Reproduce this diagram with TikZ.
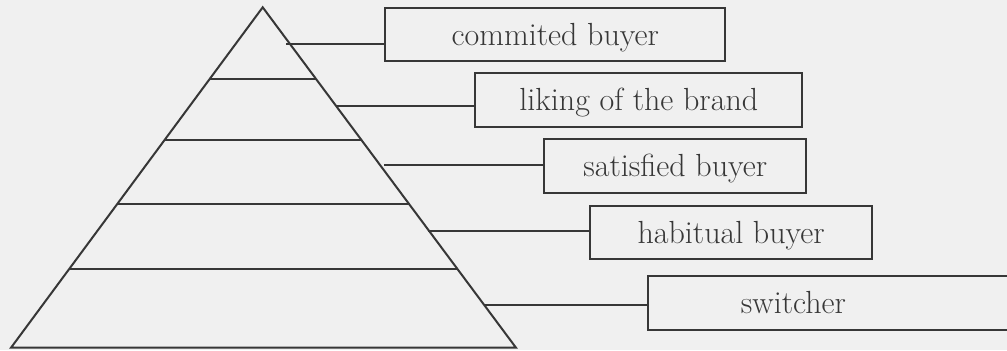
\documentclass[tikz,border=0pt]{standalone}
\usepackage{xcolor}
\usepackage{tikz}
\usetikzlibrary{calc}
\definecolor{pagegray}{RGB}{240,240,240}
\definecolor{linegray}{RGB}{55,55,55}
\tikzset{
  tier/.style={draw=linegray, line width=1pt},
  levelbox/.style={draw=linegray, line width=1pt, fill=pagegray, anchor=west,
    minimum height=26.8pt, inner sep=0pt, text height=11.2pt, text depth=0.5pt,
    font=\fontsize{16}{19}\selectfont, text=linegray}
}

\begin{document}
\begin{tikzpicture}[x=0.5pt, y=-0.5pt]
% page
\fill[pagegray] (0,0) rectangle (1007,350);
\useasboundingbox (0,0) rectangle (1007,350);
% pyramid
\coordinate (top) at (262.7,7.3);
\coordinate (bl) at (11,347.7);
\coordinate (br) at (516,347.7);
\draw[tier, line join=miter] (top) -- (bl) -- (br) -- cycle;
% layers
\foreach \t in {0.2115,0.39,0.577,0.77}
  \draw[tier] ($(top)!\t!(bl)$) -- ($(top)!\t!(br)$);
% boxes
\node[levelbox, minimum width=170pt] (b1) at (384.3,34.5) {commited buyer};
\node[levelbox, minimum width=163.5pt, minimum height=27pt] (b2) at (474.3,99.7) {liking of the brand};
\node[levelbox, minimum width=131pt] (b3) at (543.3,166) {satisfied buyer};
\node[levelbox, minimum width=140.8pt] (b4) at (589.3,232.5) {habitual buyer};
\node[levelbox, text width=89.4pt, align=left, inner xsep=46.6pt] (b5) at (646.7,303.2) {switcher};
% connectors
\coordinate (s1) at (286,43.7);
\coordinate (s2) at (336,106);
\coordinate (s3) at (384.3,165);
\coordinate (s4) at (427.7,231);
\coordinate (s5) at (484.3,305);
\foreach \i in {1,...,5}
  \draw[tier] (s\i) -- (s\i -| b\i.west);
\end{tikzpicture}
\end{document}
